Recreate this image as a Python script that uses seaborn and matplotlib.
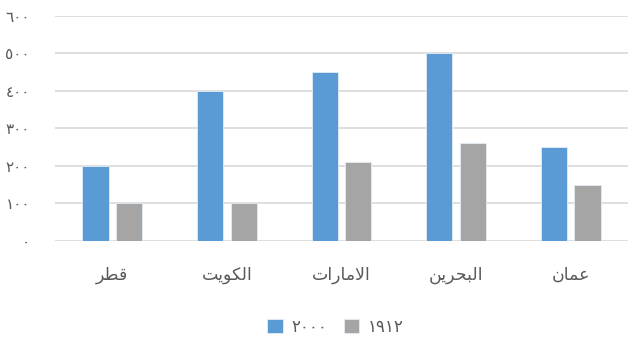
import matplotlib
matplotlib.use("Agg")
import matplotlib.pyplot as plt
import seaborn as sns
import pandas as pd

# Arabic labels, written in presentation forms and visual order
# (matplotlib has no Arabic shaping): قطر، الكويت، الامارات، البحرين، عمان
countries = [
    "\uFEAE\uFEC4\uFED7",
    "\uFE96\uFEF3\uFEEE\uFEDC\uFEDF\uFE8D",
    "\uFE95\uFE8D\uFEAD\uFE8E\uFEE3\uFEFB\uFE8D",
    "\uFEE6\uFEF3\uFEAE\uFEA4\uFE92\uFEDF\uFE8D",
    "\uFEE5\uFE8E\uFEE4\uFECB",
]
years = ["٢٠٠٠", "١٩١٢"]
values_2000 = [200, 400, 450, 500, 250]
values_1912 = [100, 100, 210, 260, 150]
y_ticks = [0, 100, 200, 300, 400, 500, 600]
y_tick_labels = ["٠", "١٠٠", "٢٠٠", "٣٠٠", "٤٠٠", "٥٠٠", "٦٠٠"]

df = pd.DataFrame({
    "country": countries * 2,
    "year": [years[0]] * 5 + [years[1]] * 5,
    "value": values_2000 + values_1912,
})

sns.set_theme(style="white")
plt.rcParams["font.family"] = ["DejaVu Sans"]
text_color = "#595959"

fig = plt.figure(figsize=(6.3, 3.47), dpi=100)
ax = fig.add_axes([0.0873, 0.3055, 0.9097, 0.6484])

sns.barplot(data=df, x="country", y="value", hue="year",
            palette=["#5B9BD5", "#A5A5A5"], saturation=1,
            width=0.585, gap=0.22, edgecolor="#E4ECF4", linewidth=0.6,
            ax=ax, legend=True, zorder=3)

ax.set_ylim(0, 600)
ax.set_yticks(y_ticks)
ax.set_yticklabels(y_tick_labels)
ax.yaxis.grid(True, color="#D9D9D9", linewidth=1.2, zorder=0)
ax.set_axisbelow(True)
for s in ax.spines.values():
    s.set_visible(False)
ax.set_xlabel("")
ax.set_ylabel("")
ax.tick_params(axis="x", length=0, pad=18, labelsize=12.5, labelcolor=text_color)
ax.tick_params(axis="y", length=0, pad=18, labelsize=11, labelcolor=text_color)

handles, labels = ax.get_legend_handles_labels()
ax.get_legend().remove()
fig.legend(handles, labels, loc="center", bbox_to_anchor=(0.532, 0.058),
           ncol=2, frameon=False, handlelength=0.95, handleheight=0.95,
           columnspacing=1.0, handletextpad=0.5, fontsize=12,
           labelcolor=text_color)

fig.savefig("out.png", dpi=100)
